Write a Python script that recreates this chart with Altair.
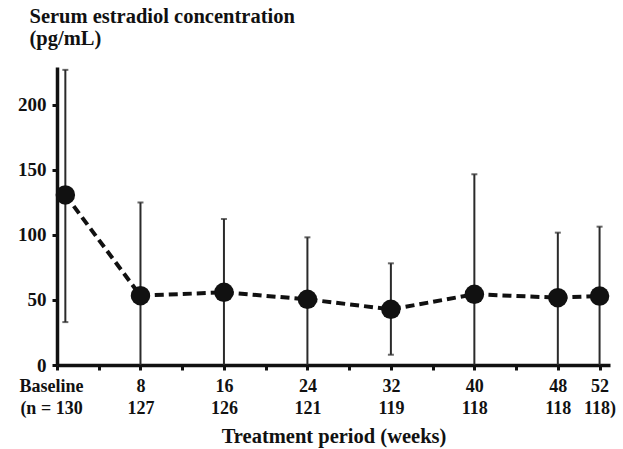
import altair as alt
import pandas as pd

# Data
weeks = [0.8, 8, 16, 24, 32, 40, 48, 52]
mean_e2 = [130.8, 53.3, 55.9, 50.5, 42.8, 54.4, 51.8, 53.0]
upper_e2 = [227.0, 125.0, 112.3, 98.2, 78.2, 146.7, 101.8, 106.4]
lower_e2 = [33.0, 0.0, 0.0, 0.0, 7.9, 0.0, 0.0, 0.0]

tick_weeks = [0, 4, 8, 12, 16, 20, 24, 28, 32, 36, 40, 44, 48, 52]
label_weeks = [0, 8, 16, 24, 32, 40, 48, 52]
label_top = ["Baseline", "8", "16", "24", "32", "40", "48", "52"]
label_n = ["(n = 130", "127", "126", "121", "119", "118", "118", "118)"]

y_ticks = [0, 50, 100, 150, 200]

df = pd.DataFrame({"week": weeks, "mean": mean_e2, "upper": upper_e2, "lower": lower_e2})

# label expression built from the label lists
expr = "''"
for w, t, n in reversed(list(zip(label_weeks, label_top, label_n))):
    expr = f"datum.value == {w} ? ['{t}', '{n}'] : ({expr})"

FONT = "Liberation Serif, Times New Roman, serif"
INK = "#111111"

xscale = alt.Scale(domain=[0, 53], nice=False, zero=False)
yscale = alt.Scale(domain=[0, 229.2], nice=False)

xaxis = alt.Axis(
    values=tick_weeks,
    labelExpr=expr,
    labelFlush=False,
    labelOverlap=False,
    labelBound=False,
    labelFont=FONT,
    labelFontSize=18,
    labelFontWeight="bold",
    labelColor=INK,
    labelLineHeight=22,
    labelBaseline="top",
    labelPadding=7,
    labelOffset={"condition": {"test": "datum.value == 0", "value": -6}, "value": 0},
    tickSize=5,
    tickWidth=3,
    tickColor=INK,
    domainWidth=3.5,
    domainColor=INK,
    grid=False,
    title="Treatment period (weeks)",
    titleFont=FONT,
    titleFontSize=20.5,
    titleFontWeight="bold",
    titleColor=INK,
    titleBaseline="alphabetic",
    titleY=77,
)

yaxis = alt.Axis(
    values=y_ticks,
    labelFont=FONT,
    labelFontSize=19,
    labelFontWeight="bold",
    labelColor=INK,
    labelPadding=6,
    tickSize=5,
    tickWidth=3,
    tickColor=INK,
    domainWidth=3.5,
    domainColor=INK,
    grid=False,
    title=["Serum estradiol concentration", "(pg/mL)"],
    titleFont=FONT,
    titleFontSize=20.5,
    titleFontWeight="bold",
    titleColor=INK,
    titleAngle=0,
    titleAlign="left",
    titleBaseline="top",
    titleX=-28,
    titleY=-61,
    titleLineHeight=22,
)

X = alt.X("week:Q", scale=xscale, axis=xaxis)

base = alt.Chart(df)

bars = base.mark_rule(color="#2a2a2a", strokeWidth=2).encode(
    x=X,
    y=alt.Y("lower:Q", scale=yscale, axis=yaxis),
    y2="upper:Q",
)
caps_top = base.mark_tick(color="#2a2a2a", size=6, thickness=2, orient="horizontal").encode(
    x=X, y=alt.Y("upper:Q", scale=yscale, axis=yaxis)
)
caps_low = base.transform_filter("datum.lower > 0").mark_tick(
    color="#2a2a2a", size=6, thickness=2, orient="horizontal"
).encode(x=X, y=alt.Y("lower:Q", scale=yscale, axis=yaxis))
line = base.mark_line(color=INK, strokeWidth=4, strokeDash=[9, 5]).encode(
    x=X, y=alt.Y("mean:Q", scale=yscale, axis=yaxis)
)
points = base.mark_circle(color=INK, size=380, opacity=1).encode(
    x=X, y=alt.Y("mean:Q", scale=yscale, axis=yaxis)
)

chart = (
    alt.layer(bars, caps_top, caps_low, line, points)
    .properties(
        width=553,
        height=298,
        autosize=alt.AutoSizeParams(type="none"),
        padding={"left": 57, "top": 67, "right": 13, "bottom": 84},
        background="white",
    )
    .configure_view(stroke=None)
)

chart.save("out.html", embed_options={"renderer": "svg", "actions": False})
